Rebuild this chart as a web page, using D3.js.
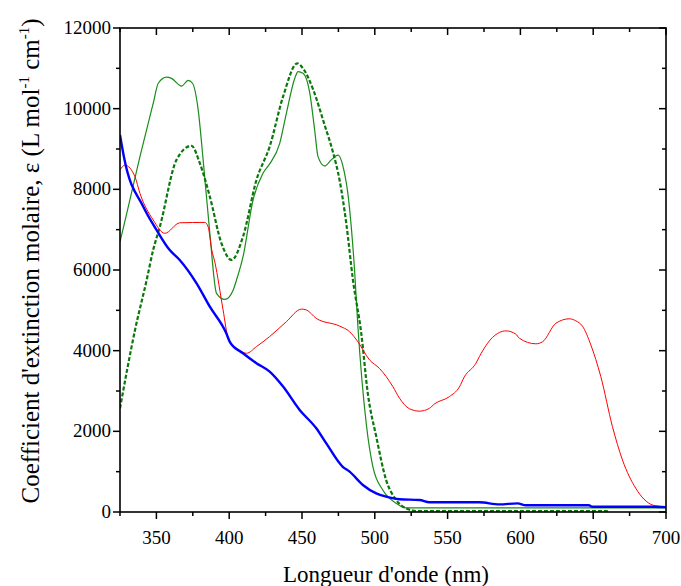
<!DOCTYPE html>
<html><head><meta charset="utf-8">
<script src="https://cdn.jsdelivr.net/npm/d3@7"></script>
<style>body{margin:0;background:#fff}svg{display:block}text{font-family:"Liberation Serif","Times New Roman",serif;fill:#000}</style>
</head><body>
<svg id="c" width="681" height="586"></svg>
<script>
const xTicks = [350,400,450,500,550,600,650,700];
const yTicks = [0,2000,4000,6000,8000,10000,12000];
const blueNm = [325,328,341,350,359,366,377.6,386.7,398,400.4,409.5,418.7,427.8,437,448.4,459.8,466.7,478,482.7,491.8,501,507.8,517,530.7,537.5,571.8,585.5,598,603.8,647,649.4,690.6,700];
const blueVal = [9350,8750,7570,7000,6500,6250,5670,5090,4430,4220,3935,3690,3480,3110,2530,2075,1700,1120,1000,670,460,380,315,298,240,240,190,215,166,166,131,131,120];
const redNm = [325,328.4,335.3,338.7,347.8,355.8,366.1,383.3,385.5,388,390.1,395.8,399.3,405,411.9,418.7,427.8,439.3,449.6,453,459.8,475.8,482.7,488.4,496.4,503.2,512.4,517,523.8,530.7,537.5,541,551.2,558.1,561.5,569.5,571.8,580.9,590.1,596.9,599.2,610.6,615.2,624.4,633.5,638.1,642.6,648.4,655.2,663.2,670.1,679.2,690.6,697.5,700];
const redVal = [8480,8600,8310,7900,7240,6910,7170,7180,7075,6500,6200,5010,4310,4060,3935,4100,4350,4720,5030,5010,4800,4610,4470,4220,3770,3560,3110,2820,2560,2500,2570,2680,2860,3100,3350,3690,3850,4330,4490,4410,4310,4170,4220,4680,4790,4740,4610,4140,3360,2120,1290,590,175,130,110];
const greenNm = [325,329.6,338.7,347.8,351.3,357,360.4,367.3,371.8,374.8,378.7,382.1,386.7,391.3,397,402.7,405,409.5,416.4,423.2,427.8,434.7,439.3,445,447.3,450.7,455.3,458.7,461,465.5,470.1,474.7,479.2,481.5,484,486.1,488.4,494.1,498.7,505.5,514.7,521.5,530,700];
const greenVal = [6700,7400,8810,10130,10630,10780,10750,10560,10700,10630,9970,8730,6910,5420,5270,5500,5750,6330,7740,8400,8630,9140,9890,10750,10920,10880,10400,9470,8810,8580,8730,8850,8400,7900,7000,6000,4600,2200,1120,545,215,100,100,100];
const dashNm = [325,335.3,343.3,347.8,352.4,363.8,374.1,379.8,386.7,394.7,401.6,409.5,418.7,427.8,437,446.8,450.7,457.6,465.5,471.2,475.8,480.4,485,490.7,495.2,501,507.8,514.7,521.5,530,660];
const dashVal = [2570,4510,5750,6500,7075,8730,9080,8650,7820,6660,6250,6830,8230,9060,10300,11125,11000,10480,9600,8930,8230,7160,5750,4430,2940,1870,790,300,90,20,20];

const svg = d3.select("#c");
const L=120, R=666, T=28, B=512;
const x = d3.scaleLinear().domain([325,700]).range([L,R]);
const y = d3.scaleLinear().domain([0,12000]).range([B,T]);

svg.append("clipPath").attr("id","clip").append("rect").attr("x",L).attr("y",T).attr("width",R-L).attr("height",B-T);

const line = d3.line().x(d=>x(d[0])).y(d=>y(d[1])).curve(d3.curveMonotoneX);
const g = svg.append("g").attr("clip-path","url(#clip)");
function draw(nm, val, color, w, dash){
  const p = g.append("path").datum(nm.map((n,i)=>[n,val[i]])).attr("d",line)
    .attr("fill","none").attr("stroke",color).attr("stroke-width",w).attr("stroke-linejoin","round");
  if(dash) p.attr("stroke-dasharray",dash);
}
draw(greenNm, greenVal, "#1a8c1a", 1.2);
draw(dashNm, dashVal, "#0a780a", 2.2, "4,2");
draw(redNm, redVal, "#ff0000", 1);
draw(blueNm, blueVal, "#0000ff", 2.4);

// frame
svg.append("rect").attr("x",L).attr("y",T).attr("width",R-L).attr("height",B-T).attr("fill","none").attr("stroke","#000").attr("stroke-width",1.6);

const xMinor = d3.range(325,701,25);
const yMinor = d3.range(0,12001,1000);
const ax = svg.append("g").attr("stroke","#000").attr("stroke-width",1.5);
xMinor.forEach(v=>{
  const major = xTicks.includes(v);
  const len = major?7:4;
  ax.append("line").attr("x1",x(v)).attr("x2",x(v)).attr("y1",B).attr("y2",B+len);
  ax.append("line").attr("x1",x(v)).attr("x2",x(v)).attr("y1",T).attr("y2",T+len);
});
yMinor.forEach(v=>{
  const major = yTicks.includes(v);
  const len = major?7:4;
  ax.append("line").attr("y1",y(v)).attr("y2",y(v)).attr("x1",L).attr("x2",L-len);
  ax.append("line").attr("y1",y(v)).attr("y2",y(v)).attr("x1",R).attr("x2",R-len);
});
xTicks.forEach(v=>{
  svg.append("text").attr("x",x(v)).attr("y",544).attr("text-anchor","middle").attr("font-size",19).text(v);
});
yTicks.forEach(v=>{
  svg.append("text").attr("x",111).attr("y",y(v)+6).attr("text-anchor","end").attr("font-size",19).text(v);
});
svg.append("text").attr("x",386).attr("y",582).attr("text-anchor","middle").attr("font-size",23).text("Longueur d'onde (nm)");
const yl = svg.append("text").attr("transform","translate(39,261) rotate(-90)").attr("text-anchor","middle").attr("font-size",25);
yl.append("tspan").text("Coefficient d'extinction molaire, ε (L mol");
yl.append("tspan").attr("font-size",15).attr("dy",-10).text("-1");
yl.append("tspan").attr("dy",10).text(" cm");
yl.append("tspan").attr("font-size",15).attr("dy",-10).text("-1");
yl.append("tspan").attr("dy",10).text(")");
</script>
</body></html>
